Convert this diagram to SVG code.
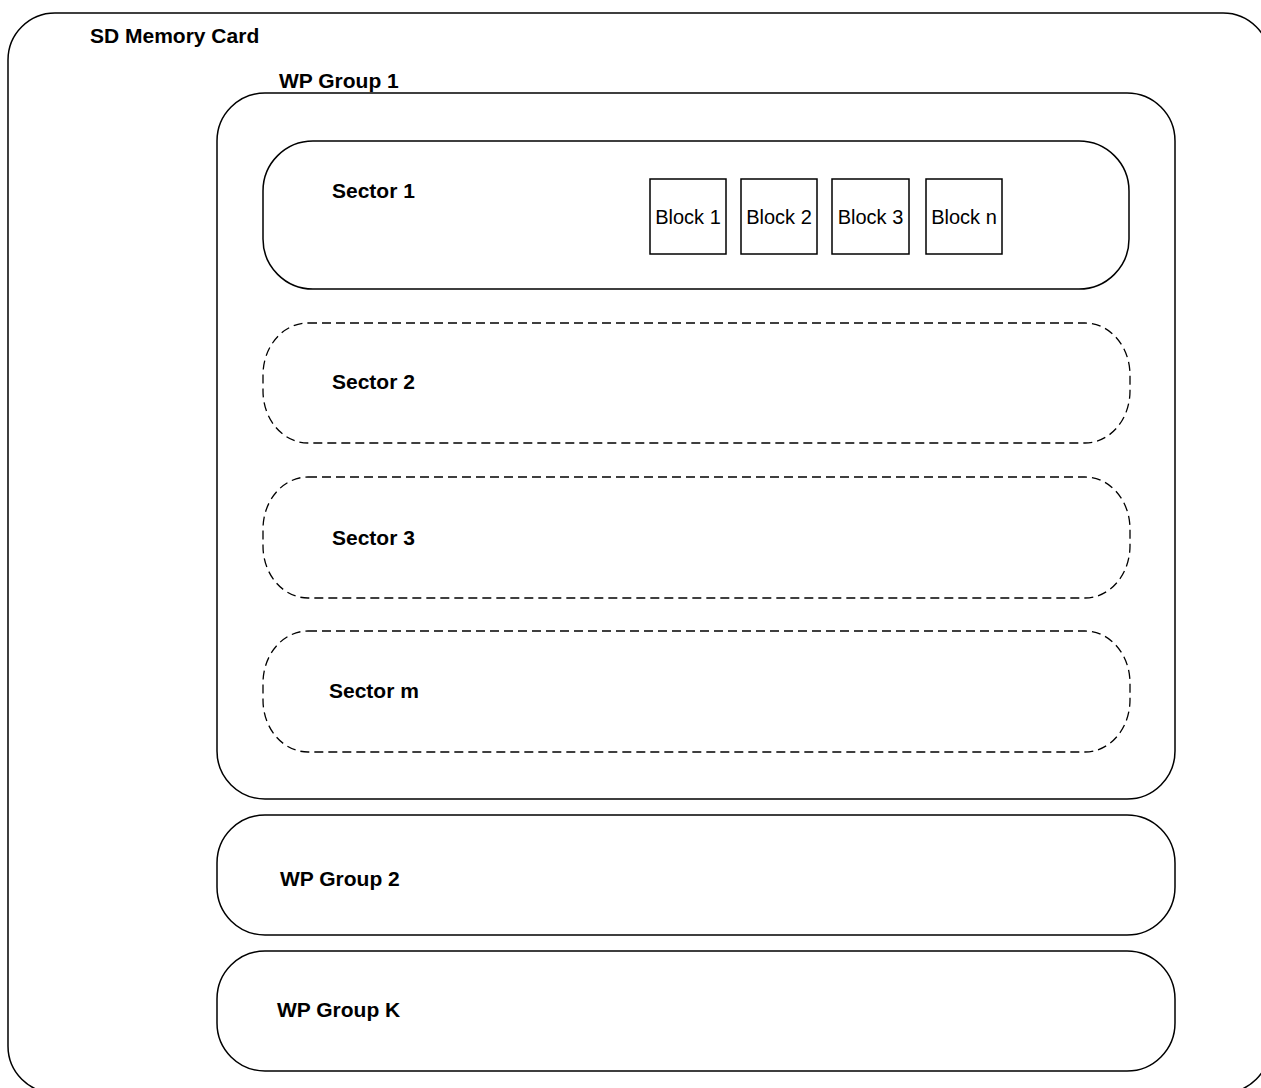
<svg xmlns="http://www.w3.org/2000/svg" width="1261" height="1088" viewBox="0 0 1261 1088">
<style>
.box{fill:none;stroke:#000;stroke-width:1.5}
.dash{fill:none;stroke:#000;stroke-width:1.3;stroke-dasharray:9 5}
.lbl{font-family:"Liberation Sans",Arial,sans-serif;font-weight:bold;font-size:21px;fill:#000}
.blk{font-family:"Liberation Sans",Arial,sans-serif;font-size:20px;fill:#000;text-anchor:middle}
</style>
<rect width="1261" height="1088" fill="#fff"/>
<g id="sd-card">
<rect class="box" x="8" y="13" width="1262" height="1080" rx="47" ry="47"/>
<text class="lbl" x="90" y="43">SD Memory Card</text>
</g>
<g id="wp-group-1">
<rect class="box" x="217" y="93" width="958" height="706" rx="48" ry="48"/>
<text class="lbl" x="279" y="88">WP Group 1</text>
</g>
<g id="sector-1">
<rect class="box" x="263" y="141" width="866" height="148" rx="50" ry="50"/>
<text class="lbl" x="332" y="198">Sector 1</text>
</g>
<g id="block-1">
<rect class="box" x="650" y="179" width="76" height="75"/>
<text class="blk" x="688" y="224">Block 1</text>
</g>
<g id="block-2">
<rect class="box" x="741" y="179" width="76" height="75"/>
<text class="blk" x="779" y="224">Block 2</text>
</g>
<g id="block-3">
<rect class="box" x="832" y="179" width="77" height="75"/>
<text class="blk" x="870.5" y="224">Block 3</text>
</g>
<g id="block-n">
<rect class="box" x="926" y="179" width="76" height="75"/>
<text class="blk" x="964" y="224">Block n</text>
</g>
<g id="sector-2">
<rect class="dash" x="263" y="323" width="867" height="120" rx="45" ry="52"/>
<text class="lbl" x="332" y="389">Sector 2</text>
</g>
<g id="sector-3">
<rect class="dash" x="263" y="477" width="867" height="121" rx="45" ry="52"/>
<text class="lbl" x="332" y="545">Sector 3</text>
</g>
<g id="sector-m">
<rect class="dash" x="263" y="631" width="867" height="121" rx="45" ry="52"/>
<text class="lbl" x="329" y="698">Sector m</text>
</g>
<g id="wp-group-2">
<rect class="box" x="217" y="815" width="958" height="120" rx="48" ry="48"/>
<text class="lbl" x="280" y="886">WP Group 2</text>
</g>
<g id="wp-group-k">
<rect class="box" x="217" y="951" width="958" height="120" rx="48" ry="48"/>
<text class="lbl" x="277" y="1017">WP Group K</text>
</g>
<g id="connectors"/>
</svg>
